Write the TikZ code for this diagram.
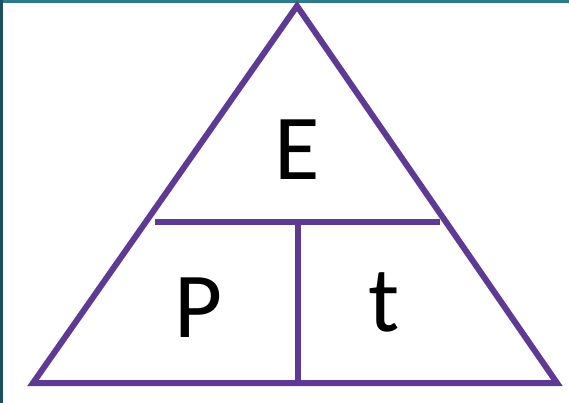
\documentclass[tikz,border=0pt]{standalone}
\usepackage{fontspec}
\setmainfont{Carlito}
\definecolor{tri}{HTML}{5E3A94}
\definecolor{topbar}{HTML}{2C7A8A}
\definecolor{leftbar}{HTML}{1C5060}
\tikzset{edge/.style={draw=tri,line width=6pt,line join=miter},
  letter/.style={inner sep=0pt,font=\fontsize{93}{93}\selectfont,text=black}}
\begin{document}
\begin{tikzpicture}[x=1pt,y=-1pt]
\useasboundingbox (0,0) rectangle (569,403);
\fill[white] (0,0) rectangle (569,403);
\fill[topbar] (0,0) rectangle (569,3);
\fill[leftbar] (0,0) rectangle (3,403);
\coordinate (apex) at (297,6);
\coordinate (bl) at (33,383);
\coordinate (br) at (557,383);
\coordinate (ml) at (155,222);
\coordinate (mr) at (440,222);
\coordinate (vt) at (298,222);
\coordinate (vb) at (298,383);
\draw[edge] (apex) -- (br) -- (bl) -- cycle;
\draw[edge] (ml) -- (mr);
\draw[edge] (vt) -- (vb);
\node[letter] (E) at (297,150) {E};
\node[letter] (P) at (199,308) {P};
\node[letter] (t) at (384,302) {t};
\end{tikzpicture}
\end{document}
